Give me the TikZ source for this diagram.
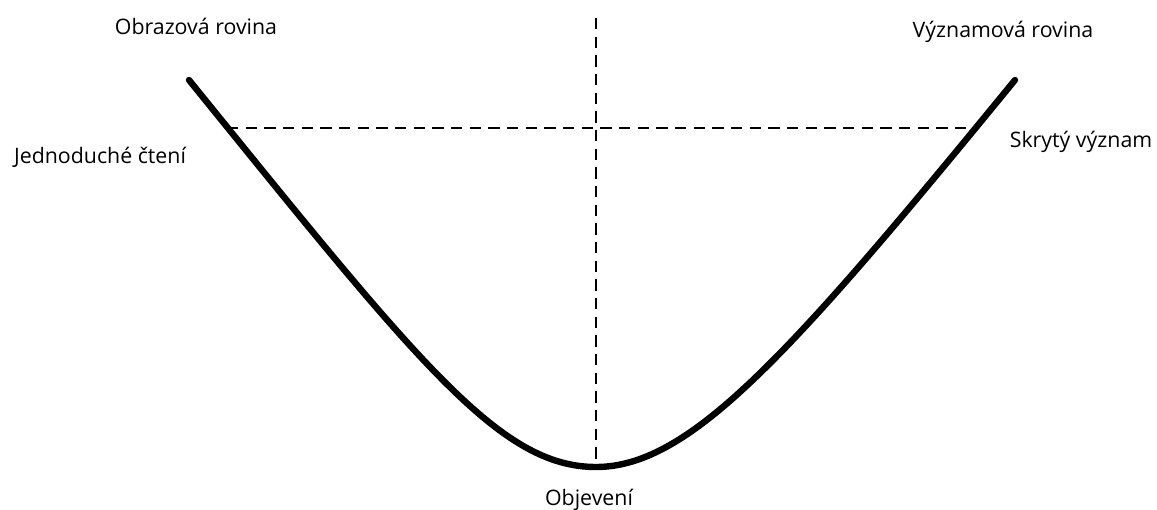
\documentclass[tikz,border=0pt]{standalone}
\usepackage{fontspec}
\setmainfont{Open Sans}
\usetikzlibrary{positioning}

\tikzset{
    label text/.style={font=\fontsize{16}{19}\selectfont, inner sep=0pt, anchor=base},
    guide line/.style={line width=1.7pt, dash pattern=on 8.5pt off 5.5pt},
    main curve/.style={line width=4.8pt, line cap=round},
}

\begin{document}
\begin{tikzpicture}[x=0.75pt, y=-0.75pt]
    \useasboundingbox (0,0) rectangle (1157,510);

    % points of the curve and the guides
    \coordinate (lefttop) at (189,80);
    \coordinate (righttop) at (1015,80);
    \coordinate (bottom) at (596,467);
    \coordinate (axistop) at (596,18);
    \coordinate (leftcross) at (227,128);
    \coordinate (rightcross) at (977,128);

    % dashed guides
    \draw[guide line] (axistop) -- (bottom);
    \draw[guide line] (leftcross) -- (rightcross);

    % the curve
    \draw[main curve] (lefttop)
        .. controls (420,365) and (500,467) .. (bottom)
        .. controls (690,467) and (790,355) .. (righttop);

    % labels
    \node[label text] (obraz) at (196,35) {Obrazová rovina};
    \node[label text] (vyznam) at (1003,38) {Významová rovina};
    \node[label text] (cteni) at (100,163) {Jednoduché čtení};
    \node[label text] (skryty) at (1081,147) {Skrytý význam};
    \node[label text] (objeveni) at (589,505) {Objevení};
\end{tikzpicture}
\end{document}
